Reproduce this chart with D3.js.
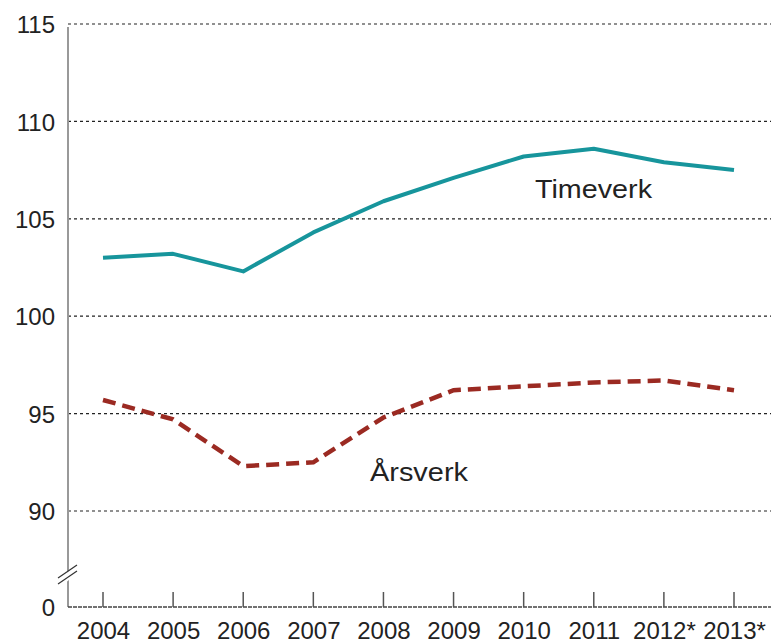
<!DOCTYPE html>
<html><head><meta charset="utf-8">
<script src="https://cdn.jsdelivr.net/npm/d3@7"></script>
<style>body{margin:0;background:#fff}svg{display:block}text{font-family:"Liberation Sans",Arial,sans-serif;fill:#222}</style>
</head><body>
<svg id="c" width="771" height="643"></svg>
<script>
const years = ["2004","2005","2006","2007","2008","2009","2010","2011","2012*","2013*"];
const timeverk = [103.0,103.2,102.3,104.3,105.9,107.1,108.2,108.6,107.9,107.5];
const arsverk = [95.7,94.7,92.3,92.5,94.8,96.2,96.4,96.6,96.7,96.2];
const yTicks = [0,90,95,100,105,110,115];
const seriesLabels = ["Timeverk","Årsverk"];

const svg = d3.select("#c");
const left = 68, right = 771, bottom = 607;
const x = d3.scalePoint().domain(years).range([103,734]);
const y = d3.scaleLinear().domain([0,90,115]).range([bottom,511,24]);

// gridlines
const gridTicks = yTicks.filter(t=>t>=90);
svg.append("g").selectAll("line").data(gridTicks).join("line")
  .attr("x1",left).attr("x2",right).attr("y1",d=>y(d)).attr("y2",d=>y(d))
  .attr("stroke","#222").attr("stroke-width",1.2).attr("stroke-dasharray","3,3");

// y axis
const ya = svg.append("g").attr("transform",`translate(${left},0)`)
  .call(d3.axisLeft(y).tickValues(yTicks).tickSize(0).tickPadding(13).tickFormat(d3.format("d")));
ya.select(".domain").remove();
ya.selectAll("text").style("font-size","24px").attr("fill","#222").attr("dy","0.36em");
svg.append("line").attr("x1",left).attr("x2",left).attr("y1",27).attr("y2",bottom)
  .attr("stroke","#999").attr("stroke-width",2);

// break marks
svg.append("polygon").attr("points","57,580 77,565 77,574 57,589").attr("fill","#fff");
[0,6].forEach(o=>{
  svg.append("line").attr("x1",58).attr("x2",77).attr("y1",578+o).attr("y2",565+o)
    .attr("stroke","#333").attr("stroke-width",1.2);
});

// x axis
const xa = svg.append("g").attr("transform",`translate(0,${bottom})`)
  .call(d3.axisBottom(x).tickSize(0).tickPadding(15));
xa.select(".domain").remove();
xa.selectAll("text").style("font-size","24px").attr("fill","#222");
svg.append("line").attr("x1",left).attr("x2",right).attr("y1",bottom).attr("y2",bottom)
  .attr("stroke","#444").attr("stroke-width",1.5).attr("stroke-dasharray","4,1");
svg.append("g").selectAll("line").data(years).join("line")
  .attr("x1",d=>x(d)).attr("x2",d=>x(d)).attr("y1",bottom).attr("y2",bottom-15)
  .attr("stroke","#555").attr("stroke-width",1.5);

const line = d3.line().x((d,i)=>x(years[i])).y(d=>y(d));
svg.append("path").datum(timeverk).attr("d",line).attr("fill","none")
  .attr("stroke","#17959c").attr("stroke-width",4).attr("stroke-linejoin","round");
svg.append("path").datum(arsverk).attr("d",line).attr("fill","none")
  .attr("stroke","#9b2a22").attr("stroke-width",4.5).attr("stroke-dasharray","13,7");

svg.append("text").attr("x",535).attr("y",198).style("font-size","25px")
  .attr("textLength",117).attr("lengthAdjust","spacingAndGlyphs").text(seriesLabels[0]);
svg.append("text").attr("x",370).attr("y",481).style("font-size","25px")
  .attr("textLength",98).attr("lengthAdjust","spacingAndGlyphs").text(seriesLabels[1]);
</script>
</body></html>
